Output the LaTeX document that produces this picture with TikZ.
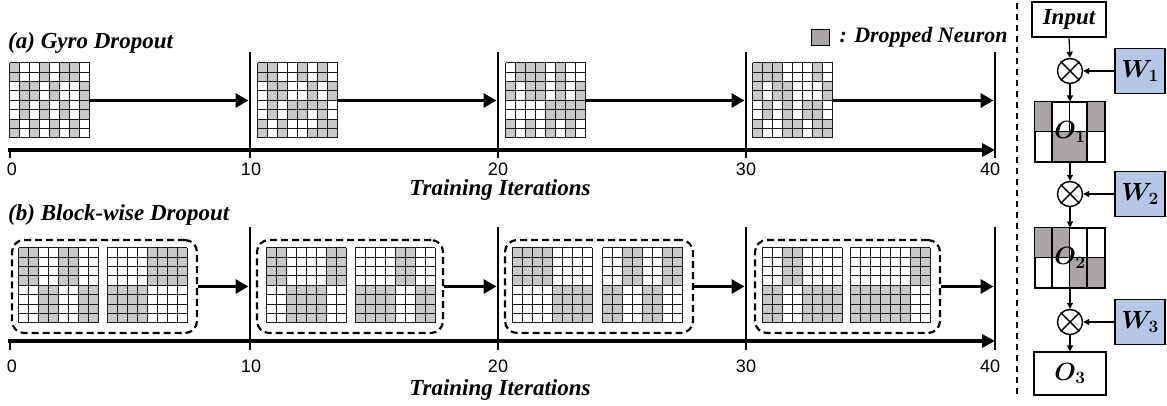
\documentclass[tikz,border=0pt]{standalone}
\usepackage{fontspec}
\setmainfont{Liberation Serif}
\newfontfamily\axisfont{Liberation Sans}
\usepackage{bm}
\usetikzlibrary{arrows.meta}

\definecolor{dropgray}{RGB}{200,200,200}
\definecolor{maskgray}{RGB}{170,166,166}
\definecolor{wblue}{RGB}{180,199,231}

\tikzset{
  gridbox/.style={minimum width=80pt, minimum height=75pt, inner sep=0pt, draw=none},
  gridline/.style={line width=1pt, black!90},
  bigarrow/.style={line width=3.6pt, -{Triangle[length=13pt,width=14pt]}},
  epochline/.style={line width=2.6pt},
  groupbox/.style={draw, line width=2.2pt, dash pattern=on 7pt off 4pt, rounded corners=12pt, inner sep=0pt},
  thinarrow/.style={line width=1.2pt, -{Triangle[length=6pt,width=6pt]}},
  paneltitle/.style={font=\fontsize{23}{24}\selectfont\bfseries\itshape, anchor=base west, inner sep=0pt},
  axislabel/.style={font=\fontsize{23}{24}\selectfont\bfseries\itshape, anchor=base, inner sep=0pt},
  ticklabel/.style={font=\axisfont\fontsize{18}{19}\selectfont, anchor=base, inner sep=0pt},
  opnode/.style={circle, draw, line width=1.4pt, minimum size=25pt, inner sep=0pt},
  wbox/.style={draw, line width=1.1pt, fill=wblue, minimum width=50pt, minimum height=45pt, inner sep=0pt, font=\fontsize{26}{26}\selectfont},
  plainbox/.style={draw, line width=1.1pt, fill=white, inner sep=0pt},
}

% 8x8 neuron map: #1 name, #2/#3 centre, #4 rows as r/{gray columns}
\newcommand\neurongrid[4]{%
  \node[gridbox] (#1) at (#2,#3) {};
  \begin{scope}[shift={(#1.north west)}]
    \foreach \r/\cs in {#4}{%
      \foreach \c in \cs {%
        \ifnum\c<8
          \fill[dropgray] (\c*10,\r*9.375) rectangle ++(10,9.375);
        \fi
      }%
    }%
    \foreach \i in {0,...,8}{%
      \draw[gridline] (\i*10,0) -- (\i*10,75);
      \draw[gridline] (0,\i*9.375) -- (80,\i*9.375);
    }%
  \end{scope}%
}

\begin{document}
\begin{tikzpicture}[x=1pt, y=-1pt]
\useasboundingbox (0,0) rectangle (1167,406);

% ---------------- (a) Gyro Dropout ----------------
\node[paneltitle] (ta) at (8,49) {(a) Gyro Dropout};

\node[draw, line width=1.8pt, fill=maskgray, minimum width=18pt, minimum height=16pt, inner sep=0pt] (leg) at (820.5,37.5) {};
\node[font=\fontsize{22}{23}\selectfont\bfseries\itshape, anchor=west, inner sep=0pt] (legtxt) at ([xshift=9pt]leg.east) {: Dropped Neuron};

\foreach \n/\x in {a10/250, a20/498, a30/746, a40/995}{
  \coordinate (\n top) at (\x,52);
  \coordinate (\n bot) at (\x,158);
  \draw[epochline] (\n top) -- (\n bot);
}
\coordinate (a0) at (8,150);
\coordinate (a0 tick) at (10,158);
\coordinate (aend) at (995,150);
\draw[epochline] (a0 tick) -- (a0 tick |- a0);
\draw[line width=3.8pt, -{Triangle[length=13pt,width=13pt]}] (a0) -- (aend);

\neurongrid{ga1}{50}{100.5}{0/{0,3,5,6}, 1/{0,3,5,6}, 2/{1,2,4,7}, 3/{1,2,4,7}, 4/{1,3,5,7}, 5/{1,3,5,7}, 6/{0,2,4,6}, 7/{0,2,4,6}}
\neurongrid{ga2}{298}{100.5}{0/{0,1,4,6}, 1/{0,1,4,6}, 2/{1,2,5,7}, 3/{1,2,5,7}, 4/{1,3,4,5,6}, 5/{1,3,4,6}, 6/{0,2,6,7}, 7/{0,2,5,6,7}}
\neurongrid{ga3}{546}{100.5}{0/{1,2,3,5}, 1/{1,2,3,5}, 2/{0,2,3,5,7}, 3/{0,2,3,5,7}, 4/{4,5,6,7}, 5/{4,5,6,7}, 6/{0,2,4,6}, 7/{0,2,4,6}}
\neurongrid{ga4}{793}{100.5}{0/{0,1,2,6}, 1/{0,1,2,6}, 2/{0,2,3,7}, 3/{0,2,3,7}, 4/{1,3,5,6}, 5/{1,3,5,6}, 6/{0,3,4,6,7}, 7/{0,3,4,6,7}}

\draw[bigarrow, shorten >=1.5pt] (ga1.east) -- (ga1.east -| a10top);
\draw[bigarrow, shorten >=1.5pt] (ga2.east) -- (ga2.east -| a20top);
\draw[bigarrow, shorten >=1.5pt] (ga3.east) -- (ga3.east -| a30top);
\draw[bigarrow, shorten >=1.5pt] (ga4.east) -- (ga4.east -| a40top);

\foreach \n/\x/\t in {la0/12/0, la10/251/10, la20/498/20, la30/746/30, la40/990/40}{
  \node[ticklabel] (\n) at (\x,176) {\t};
}
\node[axislabel] (xa) at (500,196) {Training Iterations};

% ---------------- (b) Block-wise Dropout ----------------
\node[paneltitle] (tb) at (8,221) {(b) Block-wise Dropout};

\foreach \n/\x in {b10/250, b20/498, b30/746, b40/995}{
  \coordinate (\n top) at (\x,227);
  \coordinate (\n bot) at (\x,350);
  \draw[epochline] (\n top) -- (\n bot);
}
\coordinate (b0) at (8,341);
\coordinate (b0 tick) at (10,350);
\coordinate (bend) at (995,341);
\draw[epochline] (b0 tick) -- (b0 tick |- b0);
\draw[line width=3.8pt, -{Triangle[length=13pt,width=13pt]}] (b0) -- (bend);

\node[groupbox, minimum width=185pt, minimum height=93pt] (bx1) at (104.5,286.5) {};
\node[groupbox, minimum width=186pt, minimum height=93pt] (bx2) at (350,286.5) {};
\node[groupbox, minimum width=188pt, minimum height=93pt] (bx3) at (599,286.5) {};
\node[groupbox, minimum width=185pt, minimum height=93pt] (bx4) at (847.5,286.5) {};

\neurongrid{gb1}{59}{285.5}{0/{0,1,4,5}, 1/{0,1,4,5}, 2/{0,1,4,5}, 3/{0,1,4,5}, 4/{2,3,6,7}, 5/{2,3,6,7}, 6/{2,3,6,7}, 7/{2,3,6,7}}
\neurongrid{gb2}{147.5}{285.5}{0/{4,5,6,7}, 1/{4,5,6,7}, 2/{4,5,6,7}, 3/{4,5,6,7}, 4/{0,1,2,3}, 5/{0,1,2,3}, 6/{0,1,2,3}, 7/{0,1,2,3}}
\neurongrid{gb3}{306.5}{285.5}{0/{0,1,6,7}, 1/{0,1,6,7}, 2/{0,1,6,7}, 3/{0,1,6,7}, 4/{2,3,4,5}, 5/{2,3,4,5}, 6/{2,3,4,5}, 7/{2,3,4,5}}
\neurongrid{gb4}{395.5}{285.5}{0/{4,5}, 1/{4,5}, 2/{4,5}, 3/{4,5}, 4/{0,1,2,3,6,7}, 5/{0,1,2,3,6,7}, 6/{0,1,2,3,6,7}, 7/{0,1,2,3,6,7}}
\neurongrid{gb5}{552.5}{285.5}{0/{0,1,2,3}, 1/{0,1,2,3}, 2/{0,1,2,3}, 3/{0,1,2,3}, 4/{4,5,6,7}, 5/{4,5,6,7}, 6/{4,5,6,7}, 7/{4,5,6,7}}
\neurongrid{gb6}{643}{285.5}{0/{2,3,6,7}, 1/{2,3,6,7}, 2/{2,3,6,7}, 3/{2,3,6,7}, 4/{0,1,4,5}, 5/{0,1,4,5}, 6/{0,1,4,5}, 7/{0,1,4,5}}
\neurongrid{gb7}{802.5}{285.5}{0/{2,3}, 1/{2,3}, 2/{2,3}, 3/{2,3}, 4/{0,1,4,5,6,7}, 5/{0,1,4,5,6,7}, 6/{0,1,4,5,6,7}, 7/{0,1,4,5,6,7}}
\neurongrid{gb8}{890.5}{285.5}{0/{6,7}, 1/{6,7}, 2/{6,7}, 3/{6,7}, 4/{0,1,2,3,4,5}, 5/{0,1,2,3,4,5}, 6/{0,1,2,3,4,5}, 7/{0,1,2,3,4,5}}

\draw[bigarrow, shorten >=1.5pt] (bx1.east) -- (bx1.east -| b10top);
\draw[bigarrow, shorten >=1.5pt] (bx2.east) -- (bx2.east -| b20top);
\draw[bigarrow, shorten >=1.5pt] (bx3.east) -- (bx3.east -| b30top);
\draw[bigarrow, shorten >=1.5pt] (bx4.east) -- (bx4.east -| b40top);

\foreach \n/\x/\t in {lb0/12/0, lb10/251/10, lb20/498/20, lb30/746/30, lb40/990/40}{
  \node[ticklabel] (\n) at (\x,372) {\t};
}
\node[axislabel] (xb) at (500,395) {Training Iterations};

% ---------------- layer diagram ----------------
\coordinate (septop) at (1017,3);
\coordinate (sepbot) at (1017,398);
\draw[line width=1.5pt, dash pattern=on 6pt off 5pt] (septop) -- (sepbot);

\node[plainbox, minimum width=74pt, minimum height=35pt, font=\fontsize{23}{24}\selectfont\bfseries\itshape] (in) at (1069,19.5) {Input};

\node[opnode] (m1) at (1070,71) {};
\node[opnode] (m2) at (1070,194) {};
\node[opnode] (m3) at (1070,322) {};
\foreach \m in {m1,m2,m3}{
  \draw[line width=1.4pt] (\m.north west) -- (\m.south east);
  \draw[line width=1.4pt] (\m.north east) -- (\m.south west);
}

\node[wbox] (w1) at (1140,71) {$\bm{W_1}$};
\node[wbox] (w2) at (1140,194) {$\bm{W_2}$};
\node[wbox] (w3) at (1140,322) {$\bm{W_3}$};

% output masks: 2 rows x 4 columns
\node[plainbox, minimum width=70pt, minimum height=60pt] (o1) at (1070,132) {};
\begin{scope}[shift={(o1.north west)}]
  \fill[maskgray] (0,0) rectangle (17.5,30);
  \fill[maskgray] (52.5,0) rectangle (70,30);
  \fill[maskgray] (17.5,30) rectangle (52.5,60);
  \foreach \i in {17.5,52.5} \draw[line width=1.1pt] (\i,0) -- (\i,60);
  \draw[line width=1.1pt] (35,0) -- (35,30);
  \draw[line width=1.1pt] (0,30) -- (70,30);
  \draw[line width=1.1pt] (0,0) rectangle (70,60);
\end{scope}
\node[font=\fontsize{26}{26}\selectfont, inner sep=0pt] (o1t) at (o1.center) {$\bm{O_1}$};

\node[plainbox, minimum width=70pt, minimum height=60pt] (o2) at (1070,258) {};
\begin{scope}[shift={(o2.north west)}]
  \fill[maskgray] (0,0) rectangle (35,30);
  \fill[maskgray] (35,30) rectangle (70,60);
  \foreach \i in {17.5,35,52.5} \draw[line width=1.1pt] (\i,0) -- (\i,60);
  \draw[line width=1.1pt] (0,30) -- (70,30);
  \draw[line width=1.1pt] (0,0) rectangle (70,60);
\end{scope}
\node[font=\fontsize{26}{26}\selectfont, inner sep=0pt] (o2t) at (o2.center) {$\bm{O_2}$};

\node[plainbox, minimum width=72pt, minimum height=43pt, font=\fontsize{26}{26}\selectfont] (o3) at (1070,373.5) {$\bm{O_3}$};

\draw[thinarrow] (in.south) -- (m1.north);
\draw[thinarrow] (w1.west) -- (m1.east);
\draw[thinarrow] (m1.south) -- (o1.north);
\draw[thinarrow] (o1.south) -- (m2.north);
\draw[thinarrow] (w2.west) -- (m2.east);
\draw[thinarrow] (m2.south) -- (o2.north);
\draw[thinarrow] (o2.south) -- (m3.north);
\draw[thinarrow] (w3.west) -- (m3.east);
\draw[thinarrow] (m3.south) -- (o3.north);
\end{tikzpicture}
\end{document}
